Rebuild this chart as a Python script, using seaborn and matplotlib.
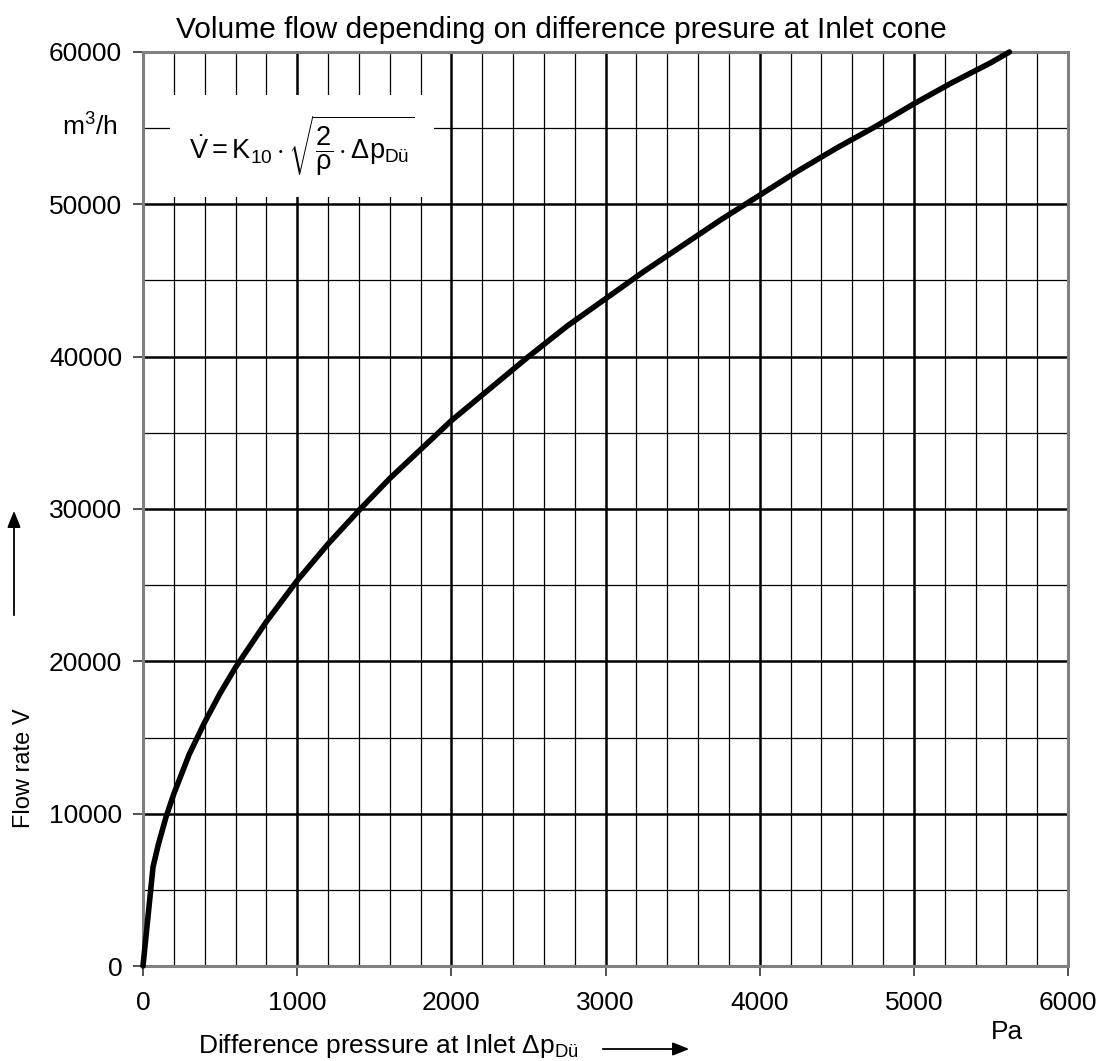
import matplotlib
matplotlib.use("Agg")
import matplotlib.pyplot as plt
import seaborn as sns
import pandas as pd
from matplotlib.ticker import MultipleLocator

# Data
pressure_pa = [0, 65, 100, 150, 200, 300, 400, 500, 600, 800, 1000, 1200, 1400,
               1600, 1800, 2000, 2250, 2500, 2750, 3000, 3250, 3500, 3750, 4000,
               4250, 4500, 4750, 5000, 5250, 5500, 5620]
flow_m3h = [0, 6500, 8000, 9800, 11300, 13900, 16000, 17900, 19600, 22600, 25300,
            27700, 29900, 32000, 33900, 35800, 37900, 40000, 42000, 43800, 45600,
            47300, 49000, 50600, 52200, 53700, 55100, 56600, 58000, 59300, 60000]
x_ticks = [0, 1000, 2000, 3000, 4000, 5000, 6000]
y_ticks = [0, 10000, 20000, 30000, 40000, 50000, 60000]

df = pd.DataFrame({"dp": pressure_pa, "V": flow_m3h})

sns.set_theme(style="white")
plt.rcParams['font.family'] = ['Liberation Sans', 'DejaVu Sans']
plt.rcParams['mathtext.fontset'] = 'custom'
plt.rcParams['mathtext.rm'] = 'Liberation Sans'
plt.rcParams['mathtext.it'] = 'Liberation Sans'
plt.rcParams['text.color'] = 'black'
plt.rcParams['xtick.color'] = 'black'
plt.rcParams['ytick.color'] = 'black'

W, H = 1106, 1061
fig = plt.figure(figsize=(W / 100, H / 100), dpi=100)
ax = fig.add_axes([143 / W, 1 - 966 / H, (1068 - 143) / W, (966 - 52) / H])

sns.lineplot(data=df, x="dp", y="V", ax=ax, color="black", linewidth=4.0,
             zorder=5, clip_on=False)

ax.set_xlim(0, 6000)
ax.set_ylim(0, 60000)
ax.set_xticks(x_ticks)
ax.set_yticks(y_ticks)
ax.set_xticklabels([str(t) for t in x_ticks])
ax.set_yticklabels([str(t) for t in y_ticks])
ax.xaxis.set_minor_locator(MultipleLocator(200))
ax.yaxis.set_minor_locator(MultipleLocator(5000))
ax.grid(which="major", color="black", linewidth=1.8, zorder=1)
ax.grid(which="minor", color="black", linewidth=0.9, zorder=1)
ax.set_axisbelow(True)
ax.tick_params(which="major", direction="out", length=7, width=1.2, color="#333333",
               labelsize=19, bottom=True, left=True)
ax.tick_params(axis="y", which="major", pad=8)
ax.tick_params(axis="x", which="major", pad=11)
ax.tick_params(which="minor", length=0)
for s in ax.spines.values():
    s.set_color("#808080")
    s.set_linewidth(2.2)
ax.set_xlabel("")
ax.set_ylabel("")

# m3/h unit label next to the 55000 grid line
fig.text(118 / W, 1 - 127 / H, "m$^3$/h", ha="right", va="center", fontsize=19)

# Formula box
ax.text((302 - 143) / 925, (966 - 146) / 914,
        r"$\dot{V} = K_{10} \cdot \sqrt{\dfrac{2}{\rho} \cdot \Delta p_{\mathrm{Dü}}}$",
        transform=ax.transAxes, ha="center", va="center", fontsize=19.5, zorder=6,
        bbox=dict(facecolor="white", edgecolor="none", boxstyle="square,pad=0.7"))

# Title
fig.text(561 / W, 1 - 30 / H, "Volume flow depending on difference presure at Inlet cone",
         ha="center", va="center", fontsize=21.5)

# Y label with arrow
fig.text(24 / W, 1 - 768 / H, "Flow rate V", rotation=90, ha="center", va="center",
         fontsize=17)
fig.add_artist(matplotlib.patches.FancyArrowPatch(
    (14 / W, 1 - 618 / H), (14 / W, 1 - 508 / H), transform=fig.transFigure,
    arrowstyle="-|>,head_length=10,head_width=4", color="black", linewidth=1.3,
    mutation_scale=1))

# X label with arrow
fig.text(198 / W, 1 - 1046 / H, r"Difference pressure at Inlet $\Delta$p$_{\mathrm{Dü}}$",
         ha="left", va="center", fontsize=19)
fig.add_artist(matplotlib.patches.FancyArrowPatch(
    (600 / W, 1 - 1049 / H), (692 / W, 1 - 1049 / H), transform=fig.transFigure,
    arrowstyle="-|>,head_length=10,head_width=4", color="black", linewidth=1.3,
    mutation_scale=1))

fig.text(1007 / W, 1 - 1032 / H, "Pa", ha="center", va="center", fontsize=19)

fig.savefig("out.png", dpi=100, facecolor="white")
